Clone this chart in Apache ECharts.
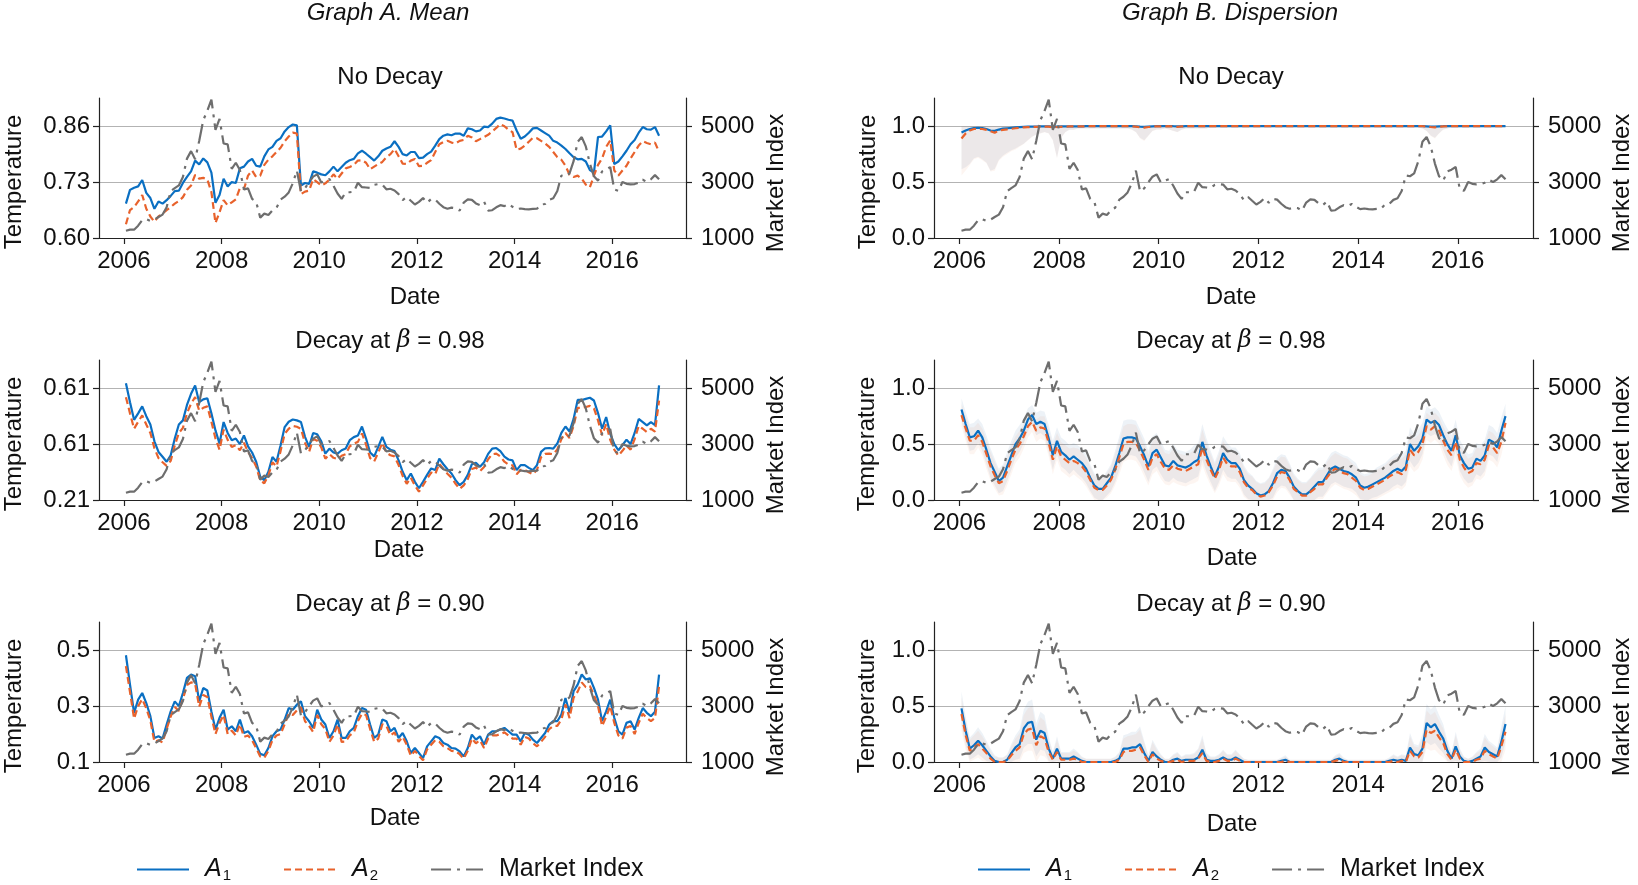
<!DOCTYPE html>
<html>
<head>
<meta charset="utf-8">
<script src="https://cdn.jsdelivr.net/npm/echarts@6/dist/echarts.min.js"></script>
<style>
  html, body { margin: 0; padding: 0; background: #fff; }
  #chart { width: 1638px; height: 885px; }
</style>
</head>
<body>
<div id="chart"></div>
<script>
// monthly observations, Jan 2006 .. Dec 2016
var marketIndex = [
  1258, 1299, 1298, 1440, 1642, 1672, 1612, 1658, 1752, 1838, 2099, 2675,
  2786, 2881, 3183, 3841, 4109, 3820, 4471, 5218, 5552, 5954, 4871, 5262,
  4383, 4348, 3472, 3693, 3433, 2736, 2775, 2397, 2293, 1729, 1871, 1821,
  1991, 2082, 2373, 2477, 2632, 2959, 3412, 2668, 2779, 2996, 3195, 3277,
  2989, 3051, 3110, 2870, 2592, 2398, 2638, 2638, 2656, 2979, 2820, 2808,
  2790, 2905, 2928, 2911, 2743, 2762, 2701, 2568, 2359, 2468, 2333, 2199,
  2292, 2428, 2262, 2397, 2373, 2225, 2103, 2047, 2086, 2069, 1980, 2269,
  2385, 2366, 2237, 2178, 2301, 1979, 1994, 2098, 2175, 2141, 2220, 2116,
  2033, 2056, 2033, 2026, 2039, 2048, 2202, 2217, 2364, 2420, 2683, 3235,
  3210, 3310, 3748, 4441, 4612, 4277, 3664, 3206, 3053, 3383, 3445, 3539,
  2738, 2688, 3004, 2938, 2917, 2930, 2979, 3085, 3005, 3100, 3250, 3104
];

// Graph A (mean), no decay
var meanNoDecayA1 = [
  0.680, 0.712, 0.717, 0.720, 0.735, 0.705, 0.693, 0.668, 0.685, 0.680, 0.688, 0.698,
  0.709, 0.710, 0.728, 0.742, 0.755, 0.780, 0.771, 0.785, 0.776, 0.752, 0.682, 0.700,
  0.738, 0.720, 0.730, 0.728, 0.762, 0.766, 0.778, 0.784, 0.768, 0.766, 0.790, 0.806,
  0.812, 0.826, 0.832, 0.848, 0.858, 0.864, 0.862, 0.722, 0.728, 0.726, 0.755, 0.752,
  0.748, 0.746, 0.755, 0.766, 0.755, 0.765, 0.775, 0.781, 0.784, 0.797, 0.803, 0.796,
  0.788, 0.780, 0.790, 0.803, 0.808, 0.812, 0.825, 0.812, 0.795, 0.792, 0.800, 0.800,
  0.786, 0.787, 0.795, 0.801, 0.815, 0.830, 0.838, 0.841, 0.839, 0.843, 0.843, 0.838,
  0.855, 0.853, 0.848, 0.850, 0.859, 0.858, 0.866, 0.877, 0.880, 0.878, 0.875, 0.873,
  0.850, 0.831, 0.836, 0.845, 0.855, 0.856, 0.850, 0.844, 0.838, 0.826, 0.822, 0.815,
  0.807, 0.797, 0.788, 0.783, 0.784, 0.778, 0.758, 0.752, 0.835, 0.836, 0.848, 0.862,
  0.772, 0.778, 0.790, 0.803, 0.818, 0.828, 0.845, 0.858, 0.853, 0.852, 0.858, 0.838
];
var meanNoDecayA2 = [
  0.632, 0.665, 0.672, 0.685, 0.700, 0.668, 0.650, 0.638, 0.650, 0.657, 0.665, 0.672,
  0.680, 0.686, 0.695, 0.712, 0.722, 0.747, 0.738, 0.740, 0.736, 0.707, 0.635, 0.660,
  0.688, 0.676, 0.683, 0.690, 0.716, 0.714, 0.745, 0.757, 0.742, 0.745, 0.770, 0.782,
  0.790, 0.800, 0.810, 0.825, 0.836, 0.845, 0.843, 0.702, 0.708, 0.710, 0.737, 0.730,
  0.722, 0.727, 0.736, 0.748, 0.738, 0.750, 0.762, 0.765, 0.770, 0.780, 0.781, 0.775,
  0.760, 0.766, 0.772, 0.777, 0.788, 0.795, 0.807, 0.790, 0.773, 0.772, 0.780, 0.784,
  0.767, 0.768, 0.775, 0.781, 0.800, 0.818, 0.823, 0.826, 0.822, 0.820, 0.826, 0.828,
  0.838, 0.834, 0.825, 0.830, 0.835, 0.840, 0.848, 0.856, 0.865, 0.860, 0.852, 0.846,
  0.805, 0.808, 0.815, 0.824, 0.833, 0.832, 0.826, 0.820, 0.812, 0.800, 0.788, 0.782,
  0.768, 0.747, 0.742, 0.745, 0.738, 0.724, 0.718, 0.745, 0.770, 0.785, 0.812, 0.827,
  0.757, 0.745, 0.757, 0.768, 0.785, 0.800, 0.815, 0.825, 0.821, 0.818, 0.822, 0.800
];

// Graph A (mean), decay 0.98
var mean98A1 = [
  0.628, 0.560, 0.497, 0.520, 0.545, 0.510, 0.480, 0.420, 0.382, 0.365, 0.347, 0.370,
  0.430, 0.480, 0.495, 0.550, 0.590, 0.620, 0.560, 0.570, 0.574, 0.520, 0.459, 0.412,
  0.489, 0.450, 0.424, 0.430, 0.410, 0.441, 0.402, 0.380, 0.347, 0.293, 0.281, 0.311,
  0.364, 0.347, 0.406, 0.471, 0.490, 0.498, 0.495, 0.489, 0.436, 0.400, 0.450, 0.445,
  0.420, 0.376, 0.394, 0.380, 0.376, 0.388, 0.394, 0.424, 0.435, 0.441, 0.473, 0.430,
  0.380, 0.366, 0.400, 0.436, 0.400, 0.390, 0.385, 0.352, 0.311, 0.281, 0.305, 0.275,
  0.252, 0.275, 0.300, 0.323, 0.317, 0.358, 0.338, 0.320, 0.305, 0.281, 0.263, 0.275,
  0.300, 0.338, 0.343, 0.329, 0.345, 0.375, 0.394, 0.396, 0.385, 0.365, 0.355, 0.352,
  0.317, 0.335, 0.335, 0.325, 0.317, 0.335, 0.382, 0.395, 0.396, 0.394, 0.412, 0.450,
  0.473, 0.455, 0.500, 0.568, 0.568, 0.572, 0.576, 0.566, 0.521, 0.465, 0.507, 0.447,
  0.410, 0.388, 0.406, 0.426, 0.410, 0.450, 0.500, 0.489, 0.477, 0.489, 0.478, 0.620
];
var mean98A2 = [
  0.578, 0.520, 0.465, 0.490, 0.513, 0.480, 0.450, 0.395, 0.360, 0.345, 0.332, 0.350,
  0.405, 0.450, 0.468, 0.520, 0.555, 0.578, 0.530, 0.540, 0.545, 0.490, 0.430, 0.390,
  0.462, 0.425, 0.400, 0.406, 0.388, 0.415, 0.382, 0.360, 0.330, 0.280, 0.270, 0.298,
  0.345, 0.330, 0.385, 0.447, 0.465, 0.475, 0.472, 0.465, 0.415, 0.382, 0.428, 0.422,
  0.398, 0.358, 0.374, 0.361, 0.357, 0.368, 0.374, 0.402, 0.412, 0.418, 0.448, 0.408,
  0.360, 0.348, 0.380, 0.414, 0.380, 0.370, 0.366, 0.335, 0.296, 0.268, 0.290, 0.262,
  0.240, 0.262, 0.286, 0.308, 0.302, 0.340, 0.321, 0.304, 0.290, 0.268, 0.250, 0.262,
  0.285, 0.321, 0.326, 0.313, 0.328, 0.356, 0.374, 0.376, 0.366, 0.347, 0.337, 0.334,
  0.302, 0.318, 0.318, 0.309, 0.302, 0.318, 0.363, 0.375, 0.376, 0.374, 0.391, 0.428,
  0.450, 0.432, 0.475, 0.540, 0.540, 0.543, 0.547, 0.538, 0.495, 0.442, 0.482, 0.425,
  0.390, 0.369, 0.386, 0.405, 0.390, 0.428, 0.475, 0.465, 0.453, 0.465, 0.455, 0.566
];

// Graph A (mean), decay 0.90
var mean90A1 = [
  0.482, 0.377, 0.276, 0.323, 0.347, 0.311, 0.264, 0.186, 0.192, 0.184, 0.234, 0.281,
  0.317, 0.300, 0.347, 0.401, 0.413, 0.407, 0.317, 0.365, 0.356, 0.281, 0.216, 0.258,
  0.287, 0.216, 0.228, 0.210, 0.252, 0.204, 0.210, 0.192, 0.162, 0.129, 0.124, 0.150,
  0.192, 0.210, 0.216, 0.252, 0.293, 0.287, 0.305, 0.317, 0.264, 0.246, 0.222, 0.287,
  0.252, 0.234, 0.186, 0.210, 0.252, 0.186, 0.186, 0.210, 0.222, 0.264, 0.293, 0.287,
  0.234, 0.186, 0.198, 0.252, 0.246, 0.210, 0.222, 0.186, 0.204, 0.174, 0.132, 0.150,
  0.132, 0.114, 0.156, 0.174, 0.192, 0.186, 0.168, 0.162, 0.150, 0.148, 0.138, 0.120,
  0.150, 0.198, 0.180, 0.192, 0.162, 0.198, 0.210, 0.210, 0.216, 0.222, 0.210, 0.198,
  0.198, 0.174, 0.204, 0.198, 0.180, 0.168, 0.186, 0.204, 0.234, 0.246, 0.246, 0.270,
  0.329, 0.276, 0.353, 0.377, 0.413, 0.395, 0.400, 0.365, 0.323, 0.246, 0.281, 0.323,
  0.258, 0.210, 0.198, 0.240, 0.246, 0.216, 0.258, 0.293, 0.276, 0.264, 0.280, 0.413
];
var mean90A2 = [
  0.443, 0.350, 0.255, 0.300, 0.325, 0.292, 0.248, 0.172, 0.178, 0.170, 0.218, 0.263,
  0.297, 0.283, 0.325, 0.375, 0.385, 0.380, 0.298, 0.340, 0.333, 0.262, 0.200, 0.240,
  0.268, 0.200, 0.212, 0.195, 0.235, 0.190, 0.195, 0.178, 0.150, 0.120, 0.115, 0.140,
  0.178, 0.195, 0.200, 0.235, 0.273, 0.268, 0.285, 0.296, 0.246, 0.229, 0.207, 0.268,
  0.235, 0.218, 0.172, 0.195, 0.235, 0.172, 0.173, 0.195, 0.206, 0.246, 0.273, 0.268,
  0.218, 0.172, 0.184, 0.235, 0.229, 0.195, 0.206, 0.172, 0.190, 0.162, 0.122, 0.140,
  0.122, 0.106, 0.145, 0.162, 0.178, 0.172, 0.156, 0.150, 0.140, 0.138, 0.128, 0.112,
  0.140, 0.184, 0.167, 0.178, 0.150, 0.184, 0.195, 0.195, 0.200, 0.206, 0.195, 0.184,
  0.184, 0.162, 0.190, 0.184, 0.167, 0.156, 0.172, 0.190, 0.218, 0.229, 0.229, 0.252,
  0.306, 0.257, 0.330, 0.352, 0.385, 0.368, 0.372, 0.340, 0.300, 0.229, 0.262, 0.300,
  0.240, 0.195, 0.184, 0.223, 0.229, 0.200, 0.240, 0.273, 0.257, 0.246, 0.257, 0.371
];

// Graph B (dispersion), no decay
var dispNoDecayA1 = [
  0.944, 0.962, 0.975, 0.984, 0.986, 0.984, 0.975, 0.962, 0.958, 0.970, 0.978, 0.982,
  0.986, 0.990, 0.992, 0.994, 0.996, 0.997, 0.997, 0.998, 0.998, 0.998, 0.996, 0.997,
  0.998, 0.999, 0.999, 0.999, 0.999, 0.999, 1.000, 1.000, 1.000, 1.000, 1.000, 1.000,
  1.000, 1.000, 1.000, 1.000, 1.000, 1.000, 0.999, 0.996, 0.995, 0.997, 0.999, 1.000,
  1.000, 1.000, 1.000, 1.000, 0.998, 0.999, 1.000, 1.000, 1.000, 1.000, 1.000, 1.000,
  1.000, 1.000, 1.000, 1.000, 1.000, 1.000, 1.000, 1.000, 1.000, 1.000, 1.000, 1.000,
  1.000, 1.000, 1.000, 1.000, 1.000, 1.000, 1.000, 1.000, 1.000, 1.000, 1.000, 1.000,
  1.000, 1.000, 1.000, 1.000, 1.000, 1.000, 1.000, 1.000, 1.000, 1.000, 1.000, 1.000,
  1.000, 1.000, 1.000, 1.000, 1.000, 1.000, 1.000, 1.000, 1.000, 1.000, 1.000, 1.000,
  1.000, 1.000, 1.000, 1.000, 0.999, 0.997, 0.996, 0.998, 1.000, 1.000, 1.000, 1.000,
  1.000, 1.000, 1.000, 1.000, 1.000, 1.000, 1.000, 1.000, 1.000, 1.000, 1.000, 1.000
];
var dispNoDecayA2 = [
  0.890, 0.935, 0.962, 0.975, 0.978, 0.975, 0.968, 0.955, 0.942, 0.960, 0.968, 0.972,
  0.977, 0.982, 0.986, 0.990, 0.992, 0.994, 0.995, 0.996, 0.997, 0.996, 0.990, 0.993,
  0.995, 0.997, 0.998, 0.998, 0.999, 0.999, 0.999, 1.000, 1.000, 1.000, 1.000, 1.000,
  1.000, 1.000, 1.000, 1.000, 1.000, 0.999, 0.997, 0.990, 0.988, 0.993, 0.997, 0.999,
  0.999, 0.999, 1.000, 0.998, 0.995, 0.998, 1.000, 1.000, 1.000, 1.000, 1.000, 1.000,
  1.000, 1.000, 1.000, 1.000, 1.000, 1.000, 1.000, 1.000, 1.000, 1.000, 1.000, 1.000,
  1.000, 1.000, 1.000, 1.000, 1.000, 1.000, 1.000, 1.000, 1.000, 1.000, 1.000, 1.000,
  1.000, 1.000, 1.000, 1.000, 1.000, 1.000, 1.000, 1.000, 1.000, 1.000, 1.000, 1.000,
  1.000, 1.000, 1.000, 1.000, 1.000, 1.000, 1.000, 1.000, 1.000, 1.000, 1.000, 1.000,
  1.000, 1.000, 1.000, 1.000, 0.998, 0.993, 0.990, 0.995, 0.999, 1.000, 1.000, 1.000,
  1.000, 1.000, 1.000, 1.000, 1.000, 1.000, 1.000, 1.000, 1.000, 1.000, 1.000, 1.000
];
var dispNoDecaySpread = [
  0.33, 0.33, 0.31, 0.27, 0.26, 0.28, 0.30, 0.36, 0.34, 0.27, 0.24, 0.22,
  0.20, 0.19, 0.17, 0.15, 0.12, 0.09, 0.07, 0.06, 0.05, 0.06, 0.12, 0.28,
  0.10, 0.05, 0.03, 0.03, 0.02, 0.02, 0.02, 0.02, 0.02, 0.02, 0.02, 0.02,
  0.02, 0.02, 0.02, 0.02, 0.02, 0.03, 0.05, 0.10, 0.12, 0.08, 0.04, 0.03,
  0.03, 0.02, 0.03, 0.04, 0.05, 0.03, 0.02, 0.02, 0.02, 0.02, 0.02, 0.02,
  0.01, 0.01, 0.01, 0.01, 0.01, 0.01, 0.01, 0.01, 0.01, 0.01, 0.01, 0.01,
  0.01, 0.01, 0.01, 0.01, 0.01, 0.01, 0.01, 0.01, 0.01, 0.01, 0.01, 0.01,
  0.01, 0.01, 0.01, 0.01, 0.01, 0.01, 0.01, 0.01, 0.01, 0.01, 0.01, 0.01,
  0.01, 0.01, 0.01, 0.01, 0.01, 0.01, 0.01, 0.01, 0.01, 0.01, 0.01, 0.01,
  0.01, 0.01, 0.01, 0.02, 0.04, 0.08, 0.10, 0.06, 0.03, 0.02, 0.01, 0.01,
  0.01, 0.01, 0.01, 0.01, 0.01, 0.01, 0.01, 0.01, 0.01, 0.01, 0.01, 0.01
];

// Graph B (dispersion), decay 0.98
var disp98A1 = [
  0.81, 0.68, 0.56, 0.57, 0.62, 0.56, 0.45, 0.33, 0.25, 0.17, 0.20, 0.30,
  0.40, 0.50, 0.55, 0.62, 0.72, 0.76, 0.68, 0.70, 0.68, 0.55, 0.40, 0.53,
  0.43, 0.40, 0.36, 0.39, 0.36, 0.33, 0.28, 0.20, 0.13, 0.10, 0.10, 0.15,
  0.20, 0.30, 0.42, 0.55, 0.56, 0.56, 0.55, 0.48, 0.40, 0.30, 0.42, 0.45,
  0.38, 0.31, 0.30, 0.35, 0.31, 0.30, 0.29, 0.31, 0.34, 0.36, 0.52, 0.40,
  0.30, 0.21, 0.30, 0.42, 0.36, 0.33, 0.33, 0.28, 0.18, 0.13, 0.10, 0.06,
  0.04, 0.05, 0.08, 0.15, 0.24, 0.27, 0.26, 0.20, 0.12, 0.08, 0.05, 0.05,
  0.08, 0.12, 0.16, 0.16, 0.22, 0.28, 0.30, 0.28, 0.26, 0.25, 0.23, 0.20,
  0.13, 0.11, 0.12, 0.14, 0.16, 0.18, 0.20, 0.23, 0.26, 0.28, 0.26, 0.30,
  0.50, 0.44, 0.48, 0.55, 0.72, 0.69, 0.71, 0.67, 0.58, 0.50, 0.44, 0.58,
  0.40, 0.33, 0.28, 0.29, 0.37, 0.35, 0.40, 0.54, 0.52, 0.47, 0.62, 0.75
];
var disp98A2 = [
  0.76, 0.64, 0.53, 0.53, 0.58, 0.52, 0.41, 0.30, 0.22, 0.15, 0.17, 0.26,
  0.36, 0.45, 0.50, 0.57, 0.66, 0.70, 0.62, 0.65, 0.64, 0.51, 0.36, 0.48,
  0.39, 0.36, 0.33, 0.35, 0.33, 0.30, 0.25, 0.18, 0.11, 0.09, 0.09, 0.13,
  0.18, 0.27, 0.38, 0.50, 0.52, 0.52, 0.51, 0.44, 0.36, 0.27, 0.38, 0.41,
  0.34, 0.28, 0.27, 0.31, 0.28, 0.27, 0.26, 0.28, 0.30, 0.32, 0.47, 0.36,
  0.27, 0.19, 0.27, 0.38, 0.32, 0.30, 0.30, 0.25, 0.16, 0.11, 0.09, 0.05,
  0.03, 0.04, 0.07, 0.13, 0.21, 0.25, 0.24, 0.18, 0.10, 0.07, 0.04, 0.04,
  0.07, 0.10, 0.14, 0.14, 0.20, 0.25, 0.28, 0.26, 0.24, 0.23, 0.20, 0.17,
  0.11, 0.09, 0.10, 0.12, 0.14, 0.16, 0.18, 0.21, 0.23, 0.25, 0.23, 0.27,
  0.45, 0.40, 0.43, 0.50, 0.66, 0.63, 0.66, 0.62, 0.53, 0.45, 0.40, 0.52,
  0.36, 0.29, 0.24, 0.26, 0.33, 0.32, 0.36, 0.49, 0.47, 0.42, 0.52, 0.69
];
var disp98Spread = [
  0.10, 0.11, 0.12, 0.12, 0.11, 0.12, 0.13, 0.13, 0.12, 0.11, 0.12, 0.13,
  0.13, 0.12, 0.12, 0.11, 0.10, 0.09, 0.10, 0.10, 0.11, 0.12, 0.13, 0.12,
  0.13, 0.13, 0.13, 0.12, 0.13, 0.13, 0.13, 0.12, 0.11, 0.10, 0.10, 0.11,
  0.12, 0.14, 0.15, 0.16, 0.16, 0.16, 0.16, 0.15, 0.15, 0.14, 0.15, 0.15,
  0.15, 0.14, 0.14, 0.15, 0.14, 0.14, 0.14, 0.14, 0.15, 0.15, 0.16, 0.15,
  0.14, 0.13, 0.14, 0.15, 0.15, 0.14, 0.14, 0.14, 0.13, 0.12, 0.12, 0.11,
  0.11, 0.11, 0.12, 0.13, 0.14, 0.14, 0.14, 0.13, 0.12, 0.11, 0.11, 0.11,
  0.12, 0.13, 0.13, 0.13, 0.14, 0.14, 0.14, 0.14, 0.14, 0.14, 0.13, 0.13,
  0.12, 0.12, 0.12, 0.12, 0.13, 0.13, 0.13, 0.14, 0.14, 0.14, 0.14, 0.14,
  0.15, 0.15, 0.15, 0.14, 0.12, 0.12, 0.12, 0.12, 0.13, 0.14, 0.14, 0.14,
  0.14, 0.14, 0.13, 0.13, 0.14, 0.14, 0.14, 0.13, 0.13, 0.13, 0.12, 0.11
];

// Graph B (dispersion), decay 0.90
var disp90A1 = [
  0.48, 0.28, 0.12, 0.15, 0.19, 0.15, 0.10, 0.05, 0.01, 0.00, 0.00, 0.02,
  0.08, 0.13, 0.16, 0.30, 0.35, 0.36, 0.20, 0.28, 0.26, 0.12, 0.03, 0.12,
  0.03, 0.03, 0.03, 0.05, 0.03, 0.01, 0.00, 0.00, 0.00, 0.00, 0.00, 0.00,
  0.00, 0.01, 0.03, 0.12, 0.12, 0.13, 0.13, 0.16, 0.08, 0.01, 0.09, 0.05,
  0.02, 0.00, 0.00, 0.02, 0.03, 0.01, 0.02, 0.02, 0.02, 0.04, 0.11, 0.02,
  0.01, 0.01, 0.02, 0.04, 0.02, 0.02, 0.04, 0.02, 0.00, 0.00, 0.00, 0.00,
  0.00, 0.00, 0.00, 0.00, 0.00, 0.01, 0.02, 0.00, 0.00, 0.00, 0.00, 0.00,
  0.00, 0.00, 0.00, 0.00, 0.00, 0.00, 0.02, 0.03, 0.01, 0.00, 0.00, 0.00,
  0.00, 0.00, 0.00, 0.00, 0.00, 0.00, 0.00, 0.01, 0.02, 0.01, 0.02, 0.01,
  0.13, 0.07, 0.06, 0.12, 0.35, 0.31, 0.34, 0.27, 0.21, 0.10, 0.03, 0.14,
  0.05, 0.01, 0.00, 0.01, 0.03, 0.05, 0.13, 0.09, 0.07, 0.05, 0.18, 0.34
];
var disp90A2 = [
  0.43, 0.24, 0.10, 0.13, 0.16, 0.12, 0.08, 0.03, 0.00, 0.00, 0.00, 0.01,
  0.06, 0.10, 0.13, 0.25, 0.29, 0.30, 0.15, 0.23, 0.21, 0.09, 0.02, 0.09,
  0.02, 0.02, 0.02, 0.03, 0.02, 0.00, 0.00, 0.00, 0.00, 0.00, 0.00, 0.00,
  0.00, 0.00, 0.02, 0.09, 0.10, 0.10, 0.11, 0.13, 0.06, 0.00, 0.07, 0.03,
  0.01, 0.00, 0.00, 0.01, 0.02, 0.00, 0.01, 0.01, 0.01, 0.03, 0.08, 0.01,
  0.00, 0.00, 0.01, 0.03, 0.01, 0.01, 0.03, 0.01, 0.00, 0.00, 0.00, 0.00,
  0.00, 0.00, 0.00, 0.00, 0.00, 0.00, 0.01, 0.00, 0.00, 0.00, 0.00, 0.00,
  0.00, 0.00, 0.00, 0.00, 0.00, 0.00, 0.01, 0.02, 0.00, 0.00, 0.00, 0.00,
  0.00, 0.00, 0.00, 0.00, 0.00, 0.00, 0.00, 0.00, 0.01, 0.00, 0.01, 0.00,
  0.10, 0.05, 0.04, 0.09, 0.29, 0.26, 0.28, 0.22, 0.17, 0.07, 0.02, 0.11,
  0.03, 0.00, 0.00, 0.00, 0.02, 0.03, 0.10, 0.07, 0.05, 0.03, 0.14, 0.27
];
var disp90Spread = [
  0.15, 0.13, 0.10, 0.11, 0.12, 0.11, 0.09, 0.07, 0.05, 0.04, 0.04, 0.05,
  0.08, 0.11, 0.13, 0.17, 0.19, 0.20, 0.15, 0.17, 0.16, 0.11, 0.06, 0.11,
  0.06, 0.06, 0.06, 0.07, 0.06, 0.04, 0.03, 0.03, 0.03, 0.03, 0.03, 0.03,
  0.03, 0.04, 0.06, 0.12, 0.13, 0.14, 0.14, 0.16, 0.11, 0.05, 0.11, 0.08,
  0.05, 0.03, 0.03, 0.05, 0.06, 0.04, 0.05, 0.05, 0.06, 0.08, 0.13, 0.06,
  0.04, 0.04, 0.05, 0.07, 0.05, 0.05, 0.07, 0.05, 0.03, 0.02, 0.02, 0.02,
  0.02, 0.02, 0.02, 0.02, 0.02, 0.03, 0.04, 0.02, 0.02, 0.02, 0.02, 0.02,
  0.02, 0.02, 0.02, 0.02, 0.02, 0.02, 0.04, 0.05, 0.03, 0.02, 0.02, 0.02,
  0.02, 0.02, 0.02, 0.02, 0.02, 0.02, 0.02, 0.03, 0.05, 0.04, 0.05, 0.05,
  0.13, 0.09, 0.09, 0.13, 0.17, 0.16, 0.17, 0.15, 0.13, 0.09, 0.06, 0.13,
  0.07, 0.04, 0.03, 0.04, 0.06, 0.07, 0.12, 0.10, 0.09, 0.08, 0.14, 0.16
];

// tick labels
var yearTicks = [2006, 2008, 2010, 2012, 2014, 2016];
var marketTicks = [1000, 3000, 5000];
var marketLabels = ['1000', '3000', '5000'];
var tempTicksNoDecay = [0.60, 0.73, 0.86];
var tempLabelsNoDecay = ['0.60', '0.73', '0.86'];
var tempTicks98 = [0.21, 0.41, 0.61];
var tempLabels98 = ['0.21', '0.61', '0.61'];
var tempTicks90 = [0.1, 0.3, 0.5];
var tempLabels90 = ['0.1', '0.3', '0.5'];
var dispTicks = [0.0, 0.5, 1.0];
var dispLabels = ['0.0', '0.5', '1.0'];

var FONT = "'Liberation Sans', Arial, sans-serif";
var INK = '#111';
var BLUE = '#0a6fc2';
var ORANGE = '#e8622c';
var GREY = '#6e6e6e';
var SPINE = {color: '#222', width: 1.2};

// month positions as decimal years
var months = [];
for (var yr = 2006; yr <= 2016; yr++) {
  for (var m = 0; m < 12; m++) months.push(yr + (m + 0.5) / 12);
}
function pairs(arr) {
  return arr.map(function (v, i) { return [months[i], v]; });
}

// axis spans 2.505 tick steps above the first tick
var SPAN = 2.505;

var panels = [
  {left: 99, top: 98, width: 587, a1: meanNoDecayA1, a2: meanNoDecayA2, ticks: tempTicksNoDecay, labels: tempLabelsNoDecay,
   title: 'No Decay', tx: 390, ty: 77, dx: 415, dy: 297, lx: 14, rx: 776},
  {left: 99, top: 360, width: 587, a1: mean98A1, a2: mean98A2, ticks: tempTicks98, labels: tempLabels98,
   title: 'Decay at {b|β} = 0.98', tx: 390, ty: 341, dx: 399, dy: 550, lx: 14, rx: 776},
  {left: 99, top: 622, width: 587, a1: mean90A1, a2: mean90A2, ticks: tempTicks90, labels: tempLabels90,
   title: 'Decay at {b|β} = 0.90', tx: 390, ty: 604, dx: 395, dy: 818, lx: 14, rx: 776},
  {left: 934, top: 98, width: 599, a1: dispNoDecayA1, a2: dispNoDecayA2, spread: dispNoDecaySpread, ticks: dispTicks, labels: dispLabels,
   title: 'No Decay', tx: 1231, ty: 77, dx: 1231, dy: 297, lx: 868, rx: 1622},
  {left: 934, top: 360, width: 599, a1: disp98A1, a2: disp98A2, spread: disp98Spread, ticks: dispTicks, labels: dispLabels,
   title: 'Decay at {b|β} = 0.98', tx: 1231, ty: 341, dx: 1232, dy: 558, lx: 867, rx: 1622},
  {left: 934, top: 622, width: 599, a1: disp90A1, a2: disp90A2, spread: disp90Spread, ticks: dispTicks, labels: dispLabels,
   title: 'Decay at {b|β} = 0.90', tx: 1231, ty: 604, dx: 1232, dy: 824, lx: 867, rx: 1622}
];

function labelFor(ticks, labels) {
  return function (v) {
    var best = 0;
    for (var i = 1; i < ticks.length; i++) {
      if (Math.abs(ticks[i] - v) < Math.abs(ticks[best] - v)) best = i;
    }
    return labels[best];
  };
}

// band polygon drawn once per series from [x, low, high] rows
function bandRenderer(rows, color) {
  return function (params, api) {
    if (params.dataIndex !== 0) return null;
    var upper = rows.map(function (r) { return api.coord([r[0], r[2]]); });
    var lower = rows.map(function (r) { return api.coord([r[0], r[1]]); }).reverse();
    return {type: 'polygon', shape: {points: upper.concat(lower)}, style: {fill: color}, silent: true};
  };
}

var tickFont = {fontSize: 24, fontFamily: FONT, color: INK};

var grids = [], xAxes = [], yAxes = [], series = [], graphics = [];

panels.forEach(function (p, k) {
  grids.push({left: p.left, top: p.top, width: p.width, height: 140, containLabel: false, outerBoundsMode: 'none'});

  xAxes.push({
    type: 'value', gridIndex: k, min: 2005.49, max: 2017.51,
    axisLine: {show: true, onZero: false, lineStyle: SPINE},
    axisTick: {show: true, length: 6, customValues: yearTicks, lineStyle: SPINE},
    axisLabel: Object.assign({customValues: yearTicks, margin: 11, formatter: function (v) { return String(Math.round(v)); }}, tickFont),
    splitLine: {show: false}
  });

  var step = p.ticks[1] - p.ticks[0];
  yAxes.push({
    type: 'value', gridIndex: k, position: 'left',
    min: p.ticks[0], max: p.ticks[0] + SPAN * step,
    axisLine: {show: true, lineStyle: SPINE},
    axisTick: {show: true, length: 6, customValues: p.ticks, lineStyle: SPINE},
    axisLabel: Object.assign({customValues: p.ticks, margin: 9, formatter: labelFor(p.ticks, p.labels)}, tickFont),
    splitLine: {show: true, lineStyle: {color: '#b3b3b3', width: 1.2}}
  });
  yAxes.push({
    type: 'value', gridIndex: k, position: 'right',
    min: marketTicks[0], max: marketTicks[0] + SPAN * 2000,
    axisLine: {show: true, lineStyle: SPINE},
    axisTick: {show: true, length: 6, customValues: marketTicks, lineStyle: SPINE},
    axisLabel: Object.assign({customValues: marketTicks, margin: 15, formatter: labelFor(marketTicks, marketLabels)}, tickFont),
    splitLine: {show: false}
  });

  var yl = 2 * k, yr2 = 2 * k + 1;

  // shaded bands for the dispersion panels
  if (p.spread) {
    [[p.a1, 'rgba(60,110,170,0.09)'], [p.a2, 'rgba(232,110,60,0.07)']].forEach(function (b) {
      var rows = b[0].map(function (v, i) {
        return [months[i], Math.max(0, v - p.spread[i]), Math.min(1, v + p.spread[i])];
      });
      series.push({
        type: 'custom', xAxisIndex: k, yAxisIndex: yl, data: rows,
        encode: {x: 0, y: [1, 2]}, renderItem: bandRenderer(rows, b[1]), silent: true, z: 1
      });
    });
  }

  series.push({
    name: 'A1', type: 'line', xAxisIndex: k, yAxisIndex: yl, data: pairs(p.a1),
    symbol: 'none', lineStyle: {color: BLUE, width: 2.2}, itemStyle: {color: BLUE}, z: 3
  });
  series.push({
    name: 'A2', type: 'line', xAxisIndex: k, yAxisIndex: yl, data: pairs(p.a2),
    symbol: 'none', lineStyle: {color: ORANGE, width: 2.2, type: [7, 4]}, itemStyle: {color: ORANGE}, z: 4
  });
  series.push({
    name: 'Market Index', type: 'line', xAxisIndex: k, yAxisIndex: yr2, data: pairs(marketIndex),
    symbol: 'none', lineStyle: {color: GREY, width: 2.2, type: [20, 6, 3, 6]}, itemStyle: {color: GREY}, z: 5
  });

  graphics.push({
    type: 'text', x: p.tx, y: p.ty,
    style: {text: p.title, fontSize: 24, fontFamily: FONT, fill: INK, align: 'center', verticalAlign: 'middle',
      rich: {b: {fontSize: 24, fontFamily: 'DejaVu Serif', fontStyle: 'italic', fill: INK}}}
  });
  graphics.push({
    type: 'text', x: p.dx, y: p.dy,
    style: {text: 'Date', fontSize: 24, fontFamily: FONT, fill: INK, align: 'center', verticalAlign: 'middle'}
  });
  graphics.push({
    type: 'text', x: p.lx, y: p.top + 84, rotation: Math.PI / 2,
    style: {text: 'Temperature', fontSize: 24, fontFamily: FONT, fill: INK, align: 'center', verticalAlign: 'middle'}
  });
  graphics.push({
    type: 'text', x: p.rx, y: p.top + 85, rotation: Math.PI / 2,
    style: {text: 'Market Index', fontSize: 24, fontFamily: FONT, fill: INK, align: 'center', verticalAlign: 'middle'}
  });
});

graphics.push({
  type: 'text', x: 388, y: 13,
  style: {text: 'Graph A. Mean', fontSize: 24, fontStyle: 'italic', fontFamily: FONT, fill: INK, align: 'center', verticalAlign: 'middle'}
});
graphics.push({
  type: 'text', x: 1230, y: 13,
  style: {text: 'Graph B. Dispersion', fontSize: 24, fontStyle: 'italic', fontFamily: FONT, fill: INK, align: 'center', verticalAlign: 'middle'}
});

function legendAt(left) {
  return {
    left: left, top: 852, orient: 'horizontal', selectedMode: false,
    itemWidth: 52, itemHeight: 12, itemGap: 52,
    itemStyle: {opacity: 0},
    data: ['A1', 'A2', 'Market Index'],
    formatter: function (n) {
      return n === 'Market Index' ? n : '{i|A}{s|' + n.slice(1) + '}';
    },
    textStyle: {
      fontSize: 25, fontFamily: FONT, color: INK, padding: [0, 0, 0, 11],
      rich: {
        i: {fontSize: 25, fontFamily: FONT, fontStyle: 'italic', color: INK},
        s: {fontSize: 15, fontFamily: FONT, color: INK, padding: [12, 0, 0, 1]}
      }
    }
  };
}

var chart = echarts.init(document.getElementById('chart'));
chart.setOption({
  animation: false,
  backgroundColor: '#fff',
  grid: grids,
  xAxis: xAxes,
  yAxis: yAxes,
  legend: [legendAt(131), legendAt(972)],
  series: series,
  graphic: graphics
});
</script>
</body>
</html>
